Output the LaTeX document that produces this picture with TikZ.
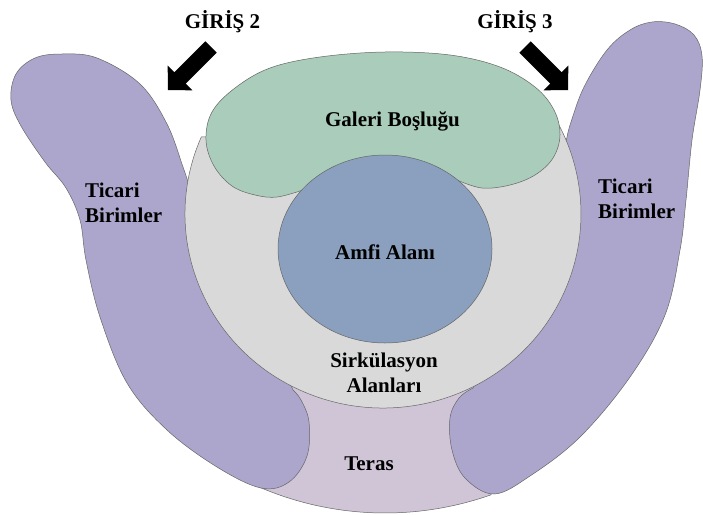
\documentclass[tikz,border=0pt]{standalone}
\usepackage{fontspec}
\setmainfont{Liberation Serif}
\definecolor{shopviolet}{RGB}{173,166,204}
\definecolor{galleryGreen}{RGB}{169,205,186}
\definecolor{circGray}{RGB}{217,217,217}
\definecolor{amphiBlue}{RGB}{138,160,190}
\definecolor{terraceMauve}{RGB}{208,197,215}
\begin{document}
\begin{tikzpicture}[x=1pt,y=-1pt,
  zone/.style={draw=black!60, line width=0.5pt},
  lbl/.style={font=\bfseries\fontsize{21}{25}\selectfont, inner sep=0pt},
  entry/.style={fill=black, draw=none}]
\fill[white] (0,0) rectangle (703,514);
\useasboundingbox (0,0) rectangle (703,514);

\coordinate (gc) at (383,214);  % circulation ring centre
\coordinate (bc) at (385,249);  % amphitheatre centre
\coordinate (pc) at (385,195);  % outer rim centre

% terrace between the two shop wings
\draw[zone, fill=terraceMauve] (pc) ++(113.5:318)
  arc[start angle=113.5, end angle=70.5, radius=318]
  -- (478,395) -- (475,378) -- (290,378) -- cycle;

% left shop wing
\draw[zone, fill=shopviolet]
  plot[smooth, tension=0.6] coordinates {(293,390) (301,400) (309,422) (307,456) (289,482) (261,488)
    (217,467) (167,430) (127,383) (100,317) (86,260) (80,220) (66,188) (45,162)
    (21,126) (11,100) (16,74) (35,58) (62,54) (97,58) (140,84) (167,124) (183,167) (188,182)}
  -- (230,250) -- cycle;

% right shop wing
\draw[zone, fill=shopviolet]
  plot[smooth, tension=0.6] coordinates {(473,388) (459,398) (450,418) (452,450) (465,478) (494,494)
    (530,476) (580,437) (630,377) (665,315) (680,250) (686,200) (692,140) (700,90)
    (702,56) (694,35) (675,24) (652,22) (630,30) (607,50) (584,87) (571,122) (567,137)}
  -- (540,250) -- cycle;

% circulation ring
\draw[zone, fill=circGray] (gc) ++(203.4:198 and 194)
  arc[start angle=203.4, end angle=-29.5, x radius=198, y radius=194]
  -- (470,130) -- (300,135) -- cycle;

% gallery void
\draw[zone, fill=galleryGreen]
  plot[smooth, tension=0.6] coordinates {(303,190) (277,197) (255,195) (232,186) (214,166) (206,140)
    (212,112) (235,88) (270,68) (320,57) (385,52) (450,55) (500,67) (535,87)
    (554,110) (560,135) (553,158) (535,175) (510,185) (482,188) (457,180)}
  -- (430,190) -- (340,190) -- cycle;

% amphitheatre
\draw[zone, fill=amphiBlue] (bc) ellipse[x radius=107, y radius=94];

% entrance arrows
\fill[entry] (205.34,41.34) -- (216.66,52.66) -- (185.68,83.64) -- (192.4,90.35)
  -- (168,90) -- (167.65,65.6) -- (174.36,72.32) -- cycle;
\fill[entry] (530.66,41.34) -- (519.34,52.66) -- (550.32,83.64) -- (543.6,90.35)
  -- (568,90) -- (568.35,65.6) -- (561.64,72.32) -- cycle;

% labels (multi-line labels are placed by the baseline of their last line)
\node[lbl, anchor=base] (giris2) at (222.5,28.5) {GİRİŞ 2};
\node[lbl, anchor=base] (giris3) at (515,28.5) {GİRİŞ 3};
\node[lbl, anchor=base] (galeri) at (392.5,126.5) {Galeri Boşluğu};
\node[lbl, anchor=base] (amfi) at (385,259) {Amfi Alanı};
\node[lbl, anchor=base, align=center] (sirk) at (384,392) {Sirkülasyon\\Alanları};
\node[lbl, anchor=base] (teras) at (369,470) {Teras};
\node[lbl, anchor=base west, align=left] (ticariL) at (85,222) {Ticari\\Birimler};
\node[lbl, anchor=base west, align=left] (ticariR) at (598,218) {Ticari\\Birimler};
\end{tikzpicture}
\end{document}
